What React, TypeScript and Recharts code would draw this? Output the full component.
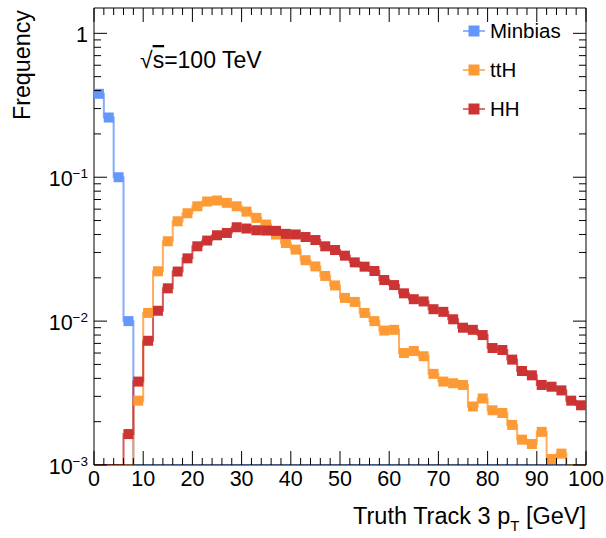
import React from "react";
import { ComposedChart, Line, XAxis, YAxis } from "recharts";

const FONT = '"Liberation Sans", Arial, Helvetica, sans-serif';

// lower edge of each 2 GeV bin
const binLow = [
  0, 2, 4, 6, 8, 10, 12, 14, 16, 18, 20, 22, 24, 26, 28, 30, 32, 34, 36, 38,
  40, 42, 44, 46, 48, 50, 52, 54, 56, 58, 60, 62, 64, 66, 68, 70, 72, 74, 76, 78,
  80, 82, 84, 86, 88, 90, 92, 94, 96, 98,
];
const BIN_WIDTH = 2;

const minbias = [
  0.38, 0.26, 0.1, 0.01, 0, 0, 0, 0, 0, 0, 0, 0, 0, 0, 0, 0, 0, 0, 0, 0,
  0, 0, 0, 0, 0, 0, 0, 0, 0, 0, 0, 0, 0, 0, 0, 0, 0, 0, 0, 0,
  0, 0, 0, 0, 0, 0, 0, 0, 0, 0,
];

const ttH = [
  0, 0, 0, 0, 0.0028, 0.0114, 0.0222, 0.0359, 0.0494, 0.0562,
  0.0628, 0.0678, 0.0689, 0.0664, 0.0628, 0.0577, 0.0522, 0.0469, 0.04, 0.0349,
  0.0314, 0.0265, 0.024, 0.0206, 0.0177, 0.0145, 0.0136, 0.0114, 0.01, 0.0086,
  0.0087, 0.006, 0.0062, 0.0057, 0.0043, 0.0038, 0.0037, 0.0036, 0.00255, 0.0029,
  0.0024, 0.0023, 0.0019, 0.0015, 0.0014, 0.0017, 0.0011, 0.0012, 0, 0,
];

const HH = [
  0, 0, 0, 0.00164, 0.0038, 0.0073, 0.0118, 0.0169, 0.0221, 0.0273,
  0.0331, 0.0363, 0.0395, 0.041, 0.0449, 0.044, 0.0428, 0.0426, 0.0424, 0.0404,
  0.04, 0.0384, 0.0366, 0.0331, 0.0312, 0.0285, 0.0256, 0.0239, 0.0223, 0.0193,
  0.0178, 0.0156, 0.0142, 0.0137, 0.0121, 0.0116, 0.0103, 0.009, 0.0087, 0.008,
  0.0065, 0.0063, 0.0054, 0.0045, 0.0042, 0.0036, 0.0035, 0.0033, 0.0028, 0.0026,
];

const series = [
  { key: "minbias", name: "Minbias", color: "#6497fc", values: minbias },
  { key: "tth", name: "ttH", color: "#fd9a36", values: ttH },
  { key: "hh", name: "HH", color: "#cc3333", values: HH },
];

const Y_MIN = 0.001;
const Y_MAX = 1.5;

const xTicks = [
  0, 2, 4, 6, 8, 10, 12, 14, 16, 18, 20, 22, 24, 26, 28, 30, 32, 34, 36, 38,
  40, 42, 44, 46, 48, 50, 52, 54, 56, 58, 60, 62, 64, 66, 68, 70, 72, 74, 76, 78,
  80, 82, 84, 86, 88, 90, 92, 94, 96, 98, 100,
];
const yTicks: number[] = [];
[0.001, 0.01, 0.1].forEach((d) => {
  for (let m = 1; m <= 9; m++) yTicks.push(+(d * m).toPrecision(3));
});
yTicks.push(1);

// histogram table: one row per bin edge and per bin centre
function makeRow(x: number, i: number, center: boolean) {
  const row: any = { x, center };
  series.forEach((s) => {
    const v = s.values[i];
    row[s.key] = v > 0 ? v : Y_MIN; // empty bins sit on the axis floor
    row[s.key + "Raw"] = v;
  });
  return row;
}
const rows: any[] = [];
binLow.forEach((lo, i) => {
  rows.push(makeRow(lo, i, false));
  rows.push(makeRow(lo + BIN_WIDTH / 2, i, true));
});
rows.push(makeRow(binLow[binLow.length - 1] + BIN_WIDTH, binLow.length - 1, false));

const isMajorLog = (v: number) => Math.abs(Math.log10(v) - Math.round(Math.log10(v))) < 1e-6;

const BottomTick = (props: any) => {
  const { x, y, payload } = props;
  const major = payload.value % 10 === 0;
  return (
    <g>
      <line x1={x} y1={y} x2={x} y2={y - (major ? 14 : 7)} stroke="#000" />
      {major && (
        <text x={x} y={y + 21} textAnchor="middle" fontSize={21.5} fontFamily={FONT} fill="#000">
          {payload.value}
        </text>
      )}
    </g>
  );
};

const TopTick = (props: any) => {
  const { x, y, payload } = props;
  const major = payload.value % 10 === 0;
  return <line x1={x} y1={y} x2={x} y2={y + (major ? 14 : 7)} stroke="#000" />;
};

const LeftTick = (props: any) => {
  const { x, y, payload } = props;
  const v = payload.value;
  const major = isMajorLog(v);
  const exp = Math.round(Math.log10(v));
  return (
    <g>
      <line x1={x} y1={y} x2={x + (major ? 13 : 7)} y2={y} stroke="#000" />
      {major && (
        <text x={x - 6} y={y + 9} textAnchor="end" fontSize={21.5} fontFamily={FONT} fill="#000">
          {exp === 0 ? (
            "1"
          ) : (
            <>
              <tspan>10</tspan>
              <tspan dy={-8} fontSize={13.5}>{"\u2212" + Math.abs(exp)}</tspan>
            </>
          )}
        </text>
      )}
    </g>
  );
};

const RightTick = (props: any) => {
  const { x, y, payload } = props;
  const major = isMajorLog(payload.value);
  return <line x1={x} y1={y} x2={x - (major ? 13 : 7)} y2={y} stroke="#000" />;
};

const makeDot = (key: string, color: string) => (props: any) => {
  const { cx, cy, payload, index } = props;
  if (!payload.center || !(payload[key + "Raw"] > 0)) return <g key={key + index} />;
  return <rect key={key + index} x={cx - 5} y={cy - 5} width={10} height={10} fill={color} />;
};

export default function App() {
  const axisLine = { stroke: "#000", strokeWidth: 1 };
  return (
    <div style={{ position: "absolute", left: 0, top: 0, width: 606, height: 538, background: "#fff" }}>
      <ComposedChart width={606} height={538} data={rows} margin={{ top: 0, right: 0, bottom: 33, left: 10 }}>
        <XAxis
          dataKey="x"
          type="number"
          domain={[0, 100]}
          ticks={xTicks}
          interval={0}
          allowDataOverflow
          height={40}
          tickSize={0}
          tickMargin={0}
          tickLine={false}
          axisLine={axisLine}
          tick={<BottomTick />}
        />
        <XAxis
          xAxisId="top"
          orientation="top"
          dataKey="x"
          type="number"
          domain={[0, 100]}
          ticks={xTicks}
          interval={0}
          allowDataOverflow
          height={8}
          tickSize={0}
          tickMargin={0}
          tickLine={false}
          axisLine={axisLine}
          tick={<TopTick />}
        />
        <YAxis
          scale="log"
          type="number"
          domain={[Y_MIN, Y_MAX]}
          allowDataOverflow
          ticks={yTicks}
          interval={0}
          width={84}
          tickSize={0}
          tickMargin={0}
          tickLine={false}
          axisLine={axisLine}
          tick={<LeftTick />}
        />
        <YAxis
          yAxisId="right"
          orientation="right"
          scale="log"
          type="number"
          domain={[Y_MIN, Y_MAX]}
          allowDataOverflow
          ticks={yTicks}
          interval={0}
          width={20}
          tickSize={0}
          tickMargin={0}
          tickLine={false}
          axisLine={axisLine}
          tick={<RightTick />}
        />
        {series.map((s) => (
          <Line
            key={s.key}
            dataKey={s.key}
            name={s.name}
            type="stepAfter"
            stroke={s.color}
            strokeWidth={2}
            strokeOpacity={0.8}
            dot={makeDot(s.key, s.color)}
            activeDot={false}
            isAnimationActive={false}
          />
        ))}
      </ComposedChart>
      <svg
        width={606}
        height={538}
        style={{ position: "absolute", left: 0, top: 0, pointerEvents: "none" }}
        fontFamily={FONT}
      >
        {series.map((s, i) => {
          const cy = 31 + i * 39;
          return (
            <g key={s.key}>
              <line x1={463} x2={485} y1={cy} y2={cy} stroke={s.color} strokeWidth={2} strokeOpacity={0.7} />
              <rect x={468.5} y={cy - 5.5} width={11} height={11} fill={s.color} />
              <text x={490} y={cy + 7} fontSize={20.5} fill="#000">
                {s.name}
              </text>
            </g>
          );
        })}
        <text x={140} y={68} fontSize={23} fill="#000">
          <tspan>{"\u221A"}</tspan>
          <tspan style={{ textDecoration: "overline" }}>s</tspan>
          <tspan>=100 TeV</tspan>
        </text>
        <text transform="translate(30,10) rotate(-90)" textAnchor="end" fontSize={23.3} fill="#000">
          Frequency
        </text>
        <text x={586} y={524} textAnchor="end" fontSize={23.5} fill="#000">
          <tspan>Truth Track 3 p</tspan>
          <tspan dy={7} fontSize={15}>T</tspan>
          <tspan dy={-7}> [GeV]</tspan>
        </text>
      </svg>
    </div>
  );
}
